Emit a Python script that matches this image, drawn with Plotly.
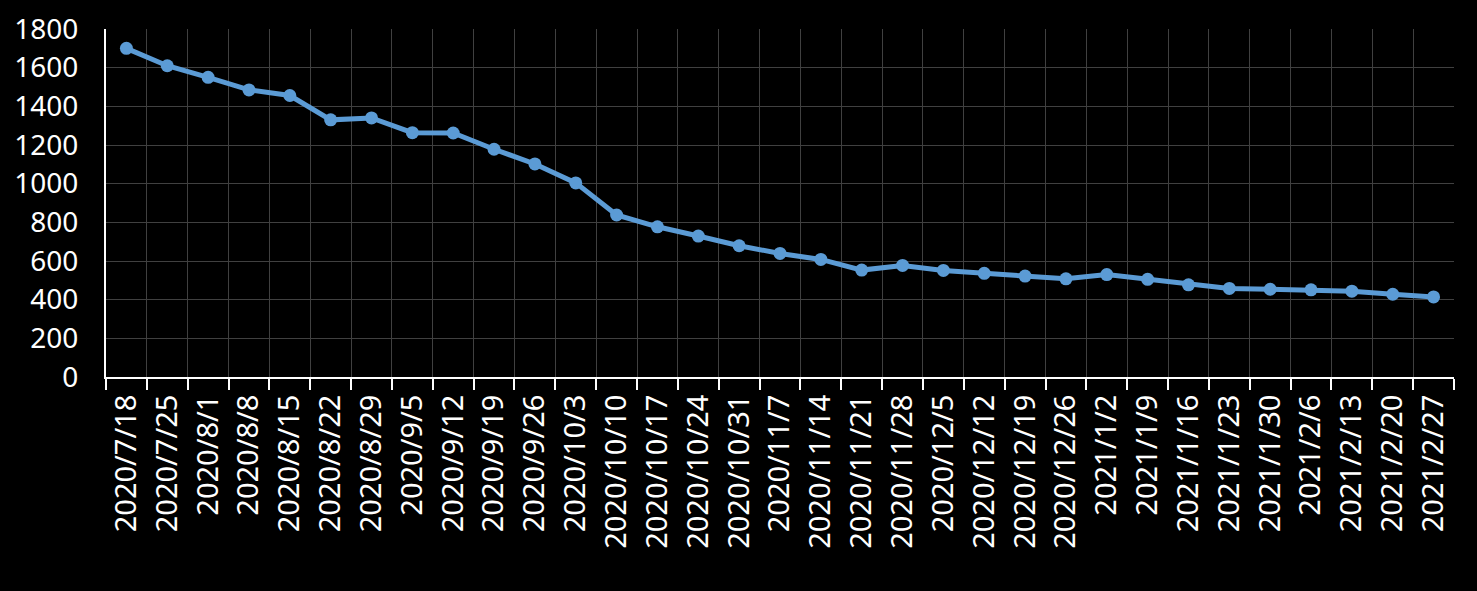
import plotly.graph_objects as go

dates = ["2020/7/18", "2020/7/25", "2020/8/1", "2020/8/8", "2020/8/15", "2020/8/22",
         "2020/8/29", "2020/9/5", "2020/9/12", "2020/9/19", "2020/9/26", "2020/10/3",
         "2020/10/10", "2020/10/17", "2020/10/24", "2020/10/31", "2020/11/7", "2020/11/14",
         "2020/11/21", "2020/11/28", "2020/12/5", "2020/12/12", "2020/12/19", "2020/12/26",
         "2021/1/2", "2021/1/9", "2021/1/16", "2021/1/23", "2021/1/30", "2021/2/6",
         "2021/2/13", "2021/2/20", "2021/2/27"]
values = [1700, 1610, 1550, 1485, 1456, 1330, 1340, 1264, 1262, 1178, 1102, 1004,
          838, 777, 729, 679, 639, 608, 553, 577, 551, 536, 522, 508,
          530, 505, 477, 458, 454, 451, 444, 428, 414]
y_ticks = [0, 200, 400, 600, 800, 1000, 1200, 1400, 1600, 1800]

FONT = "Noto Sans"

fig = go.Figure()
fig.add_trace(go.Scatter(
    x=dates, y=values, mode="lines+markers",
    line=dict(color="#5B9BD5", width=5),
    marker=dict(color="#5B9BD5", size=13),
    showlegend=False,
))

fig.update_layout(
    width=1477, height=591,
    paper_bgcolor="black", plot_bgcolor="black",
    margin=dict(l=106, r=23, t=29, b=214, autoexpand=False),
    font=dict(family=FONT, color="white", size=28),
    xaxis=dict(
        type="category", range=[-0.5, len(dates) - 0.5],
        tickson="boundaries", ticks="outside", ticklen=11, tickwidth=2, tickcolor="white",
        showline=True, linecolor="white", linewidth=2,
        showgrid=True, gridcolor="#404040", gridwidth=1,
        tickangle=-90, tickfont=dict(family=FONT, size=29, color="white"),
        ticklabelstandoff=4,
        automargin=False,
    ),
    yaxis=dict(
        range=[0, 1800], tickvals=y_ticks,
        showline=True, linecolor="white", linewidth=2,
        showgrid=True, gridcolor="#404040", gridwidth=1,
        zeroline=False, ticks="", ticklabelstandoff=20,
        tickfont=dict(family=FONT, size=28, color="white"),
        automargin=False,
    ),
)

fig.write_html(
    "out.html",
    config={"displayModeBar": False},
    post_script="document.body.style.margin='0';document.body.style.background='black';",
)
